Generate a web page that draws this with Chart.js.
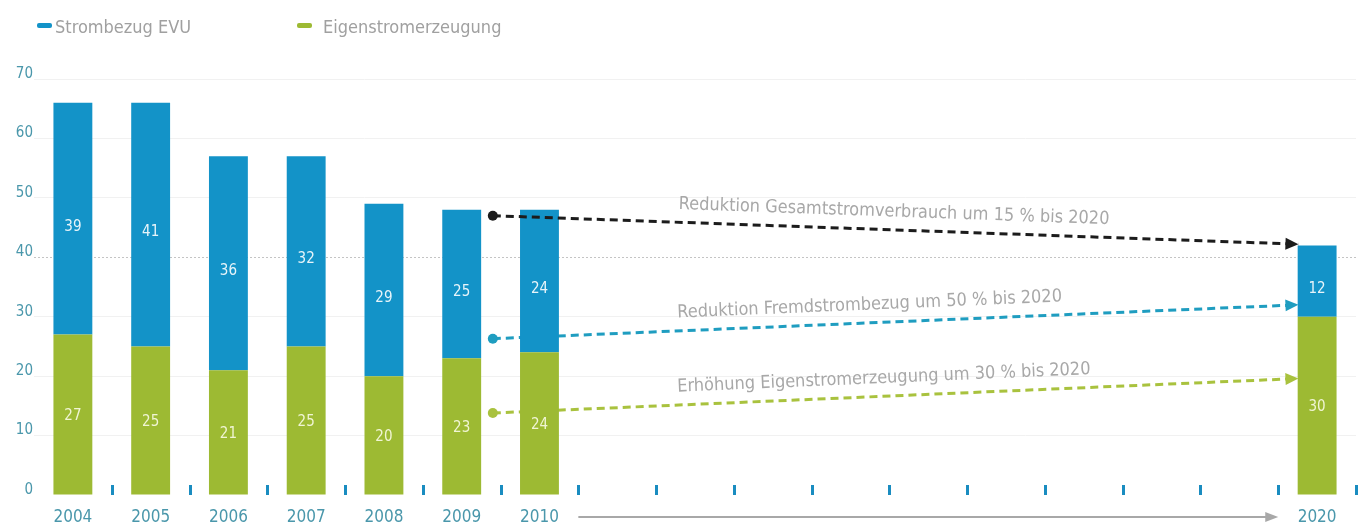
<!DOCTYPE html>
<html lang="de">
<head>
<meta charset="utf-8">
<title>Strombezug und Eigenstromerzeugung</title>
<script src="https://cdn.jsdelivr.net/npm/chart.js@4.4.1/dist/chart.umd.min.js"></script>
<style>
  html, body { margin: 0; padding: 0; background: #fff; }
  #wrap { position: relative; width: 1361px; height: 525px; }
  #legend { position: absolute; left: 0; top: 0; width: 100%; height: 60px; }
  #legend span {
    position: absolute; top: 16px;
    font: 18px 'DejaVu Sans Condensed', 'DejaVu Sans', sans-serif; color: #a0a0a0;
  }
  #legend i {
    position: absolute; width: 15px; height: 5px; border-radius: 2px;
  }
</style>
</head>
<body>
<div id="wrap">
  <canvas id="strom-chart" width="1361" height="525"></canvas>
  <div id="legend"></div>
</div>
<script>
// Stromverbrauch nach Herkunft (GWh), Ist 2004-2010 und Ziel 2020
const years = ['2004', '2005', '2006', '2007', '2008', '2009', '2010', '2011', '2012',
  '2013', '2014', '2015', '2016', '2017', '2018', '2019', '2020'];
const labeledYears = ['2004', '2005', '2006', '2007', '2008', '2009', '2010', '2020'];
const strombezugEVU = [39, 41, 36, 32, 29, 25, 24, null, null, null, null, null, null, null, null, null, 12];
const eigenstrom = [27, 25, 21, 25, 20, 23, 24, null, null, null, null, null, null, null, null, null, 30];
const seriesNames = ['Strombezug EVU', 'Eigenstromerzeugung'];
const yTicks = [0, 10, 20, 30, 40, 50, 60, 70];

// Zielpfade 2010 -> 2020, x als Kategorie-Index
const zielGesamt = [{x: 5.4, y: 47}, {x: 15.76, y: 42.2}];
const zielFremd = [{x: 5.4, y: 26.3}, {x: 15.76, y: 32}];
const zielEigen = [{x: 5.4, y: 13.8}, {x: 15.76, y: 19.6}];
const zielTexte = [
  'Reduktion Gesamtstromverbrauch um 15 % bis 2020',
  'Reduktion Fremdstrombezug um 50 % bis 2020',
  'Erhöhung Eigenstromerzeugung um 30 % bis 2020'
];
const zeitpfeil = [6.5, 15.5];

const BLUE = '#1393c8';
const GREEN = '#9dba33';
const TEAL = '#4a97ab';
const FONT = "'DejaVu Sans Condensed', 'DejaVu Sans', sans-serif";

// legend
const legend = document.getElementById('legend');
[[BLUE, 37, 55], [GREEN, 297, 323]].forEach(([c, boxX, textX], i) => {
  const box = document.createElement('i');
  box.style.background = c;
  box.style.left = boxX + 'px';
  box.style.top = '23px';
  legend.appendChild(box);
  const t = document.createElement('span');
  t.textContent = seriesNames[i];
  t.style.left = textX + 'px';
  legend.appendChild(t);
});

function arrowHead(ctx, x, y, ang, len, half, color) {
  ctx.save();
  ctx.translate(x, y);
  ctx.rotate(ang);
  ctx.fillStyle = color;
  ctx.beginPath();
  ctx.moveTo(0, 0);
  ctx.lineTo(-len, -half);
  ctx.lineTo(-len, half);
  ctx.closePath();
  ctx.fill();
  ctx.restore();
}

const labelShift = [2, 8];

const decor = {
  id: 'decor',
  afterDatasetsDraw(chart) {
    const {ctx, chartArea, scales: {xl, y}} = chart;
    ctx.save();

    // small marks between the years
    ctx.fillStyle = '#1a8cc0';
    const y0 = y.getPixelForValue(0);
    for (let k = 0; k < years.length; k++) {
      const px = Math.round(xl.getPixelForValue(k + 0.5));
      ctx.fillRect(px - 1, y0 - 10, 3, 10);
    }

    // values inside the bars
    ctx.font = '15px ' + FONT;
    ctx.textAlign = 'center';
    ctx.textBaseline = 'middle';
    [0, 1].forEach(i => {
      const ds = chart.data.datasets[i];
      ctx.fillStyle = i === 0 ? 'rgba(255,255,240,0.85)' : 'rgba(255,255,255,0.9)';
      chart.getDatasetMeta(i).data.forEach((bar, j) => {
        const v = ds.data[j];
        if (v == null) return;
        ctx.fillText(String(v), bar.x, (bar.y + bar.base) / 2 + labelShift[i]);
      });
    });

    // arrow heads and captions of the target lines
    ctx.font = '18px ' + FONT;
    ctx.textAlign = 'left';
    [2, 3, 4].forEach((i, n) => {
      const ds = chart.data.datasets[i];
      const pts = chart.getDatasetMeta(i).data;
      const a = pts[0], b = pts[pts.length - 1];
      const ang = Math.atan2(b.y - a.y, b.x - a.x);
      arrowHead(ctx, b.x, b.y, ang, 13, 6, ds.borderColor);
      ctx.save();
      ctx.translate(a.x + (b.x - a.x) * 0.23, a.y + (b.y - a.y) * 0.23);
      ctx.rotate(ang);
      ctx.fillStyle = '#a8a8a8';
      ctx.fillText(zielTexte[n], 0, -18);
      ctx.restore();
    });

    // time arrow under the axis
    const ty = chartArea.bottom + 22;
    const x1 = xl.getPixelForValue(zeitpfeil[0]);
    const x2 = xl.getPixelForValue(zeitpfeil[1]);
    ctx.strokeStyle = '#a8a8a8';
    ctx.lineWidth = 2;
    ctx.beginPath();
    ctx.moveTo(x1, ty);
    ctx.lineTo(x2 - 10, ty);
    ctx.stroke();
    arrowHead(ctx, x2, ty, 0, 13, 5, '#a8a8a8');

    ctx.restore();
  }
};

function zielLinie(data, color, order) {
  return {
    type: 'line',
    data: data,
    xAxisID: 'xl',
    yAxisID: 'y',
    stack: 'ziel-' + color,
    borderColor: color,
    borderWidth: 3,
    borderDash: [8, 5],
    fill: false,
    tension: 0,
    pointRadius: c => c.dataIndex === 0 ? 5 : 0,
    pointBackgroundColor: color,
    pointBorderWidth: 0,
    order: order
  };
}

function saeule(label, data, color) {
  return {
    type: 'bar',
    label: label,
    data: data,
    xAxisID: 'x',
    yAxisID: 'y',
    stack: 'strom',
    grouped: false,
    backgroundColor: color,
    borderWidth: 0,
    barPercentage: 0.5,
    categoryPercentage: 1,
    order: 1
  };
}

Chart.defaults.font.family = FONT;

new Chart(document.getElementById('strom-chart'), {
  type: 'bar',
  data: {
    labels: years,
    datasets: [
      saeule(seriesNames[1], eigenstrom, GREEN),
      saeule(seriesNames[0], strombezugEVU, BLUE),
      zielLinie(zielGesamt, '#1c1c1c', 0),
      zielLinie(zielFremd, '#1f9dc0', 2),
      zielLinie(zielEigen, '#a9c23e', 2)
    ]
  },
  options: {
    responsive: false,
    animation: false,
    layout: { padding: { top: 79, right: 5, left: 0, bottom: 0 } },
    plugins: {
      legend: { display: false },
      tooltip: { enabled: false }
    },
    scales: {
      x: {
        type: 'category',
        stacked: true,
        offset: true,
        grid: { display: false, drawTicks: false, offset: true },
        border: { display: false },
        ticks: {
          color: TEAL,
          font: { size: 17 },
          padding: 12,
          autoSkip: false,
          maxRotation: 0,
          callback: (v, i) => labeledYears.includes(years[i]) ? years[i] : ''
        },
        afterFit: s => { s.height = 30; }
      },
      xl: {
        type: 'linear',
        display: false,
        offset: false,
        stacked: true,
        grid: { offset: false },
        min: -0.5,
        max: years.length - 0.5
      },
      y: {
        stacked: true,
        min: yTicks[0],
        max: yTicks[yTicks.length - 1],
        ticks: {
          stepSize: 10,
          color: TEAL,
          font: { size: 15 },
          padding: 1,
          labelOffset: -5
        },
        grid: {
          drawTicks: false,
          lineWidth: 1,
          color: c => c.tick.value === 0 ? 'rgba(0,0,0,0)'
            : c.tick.value === 40 ? '#c4c4c4' : '#f1f1f1'
        },
        border: {
          display: false,
          dash: c => c.tick && c.tick.value === 40 ? [2, 2] : []
        },
        afterFit: s => { s.width = 34; }
      }
    }
  },
  plugins: [decor]
});
</script>
</body>
</html>
